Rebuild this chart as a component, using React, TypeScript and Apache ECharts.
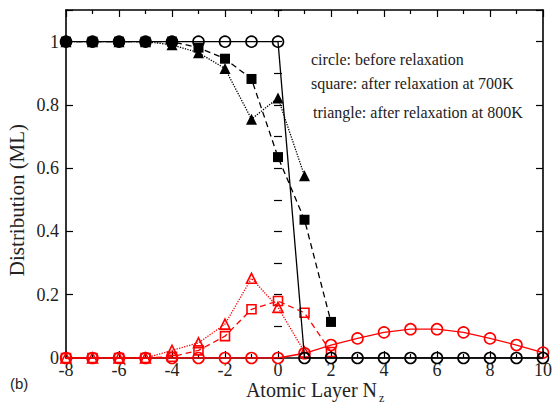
import React, { useEffect, useRef } from "react";
import * as echarts from "echarts";

const layers = [-8, -7, -6, -5, -4, -3, -2, -1, 0, 1, 2, 3, 4, 5, 6, 7, 8, 9, 10];

// black: top species (before relaxation / 700K / 800K)
const blackCircle = [1, 1, 1, 1, 1, 1, 1, 1, 1, 0, 0, 0, 0, 0, 0, 0, 0, 0, 0];
const blackSquare = [1, 1, 1, 1, 1, 0.981, 0.946, 0.882, 0.635, 0.437, 0.114];
const blackTriangle = [1, 1, 1, 1, 0.99, 0.965, 0.915, 0.755, 0.822, 0.576];

// red: second species
const redCircle = [0, 0, 0, 0, 0, 0, 0, 0, 0, 0.015, 0.041, 0.062, 0.081, 0.091, 0.091, 0.081, 0.062, 0.041, 0.017];
const redSquare = [0, 0, 0, 0, 0.004, 0.024, 0.069, 0.154, 0.18, 0.143, 0.019];
const redTriangle = [0, 0, 0, 0, 0.024, 0.048, 0.107, 0.252, 0.16, 0.019];

const xTicks = { min: -8, max: 10, interval: 2 };
const yTicks = { min: 0, max: 1.1, interval: 0.2 };

const notes = [
  "circle: before relaxation",
  "square: after relaxation at 700K",
  "triangle: after relaxation at 800K",
];

const toPairs = (vals: number[]) => vals.map((v, i) => [layers[i], v]);

const SERIF = "Liberation Serif";
const labelRich = { s: { fontFamily: SERIF, fontSize: 18, color: "#222" } };

export default function App() {
  const ref = useRef<HTMLDivElement>(null);
  useEffect(() => {
    if (!ref.current) return;
    const chart = echarts.init(ref.current, undefined, { renderer: "svg" });

    const mkSeries = (
      vals: number[],
      color: string,
      symbol: string,
      filled: boolean,
      lineType: any,
      size: number,
      z: number
    ) => ({
      type: "line",
      data: toPairs(vals),
      symbol,
      symbolSize: size,
      showAllSymbol: true,
      z,
      lineStyle: { color, width: 1.3, type: lineType },
      itemStyle: {
        color: filled ? color : "rgba(0,0,0,0)",
        borderColor: color,
        borderWidth: filled ? 0 : 1.6,
      },
      xAxisIndex: 0,
      yAxisIndex: 0,
    });

    const baseX = {
      type: "value",
      min: xTicks.min,
      max: xTicks.max,
      interval: xTicks.interval,
      splitLine: { show: false },
      axisLine: { show: true, onZero: false, lineStyle: { color: "#000", width: 1.6 } },
      axisTick: { show: true, inside: true, length: 7, lineStyle: { color: "#000", width: 1.2 } },
      minorTick: { show: true, splitNumber: 2, length: 4, lineStyle: { color: "#000", width: 1.2 } },
    };

    const option: any = {
      animation: false,
      backgroundColor: "#fff",
      textStyle: { fontFamily: SERIF },
      grid: { left: 66, right: 12, top: 10, bottom: 49, containLabel: false },
      xAxis: [
        {
          ...baseX,
          position: "bottom",
          axisLabel: {
            show: true,
            color: "#222",
            fontFamily: SERIF,
            fontSize: 18,
            margin: 3,
            formatter: (v: number) => `{s|${v}}`,
            rich: labelRich,
          },
        },
        { ...baseX, position: "top", axisLabel: { show: false } },
      ],
      yAxis: [
        {
          type: "value",
          position: "left",
          min: yTicks.min,
          max: yTicks.max,
          interval: yTicks.interval,
          splitLine: { show: false },
          axisLine: { show: true, onZero: false, lineStyle: { color: "#000", width: 1.6 } },
          axisTick: { show: true, inside: true, length: 7, lineStyle: { color: "#000", width: 1.2 } },
          axisLabel: {
            show: true,
            color: "#222",
            fontFamily: SERIF,
            fontSize: 18,
            margin: 7,
            formatter: (v: number) => (v > 1.05 ? "" : `{s|${Math.round(v * 10) / 10}}`),
            rich: labelRich,
          },
        },
        {
          type: "value",
          position: "left",
          min: yTicks.min,
          max: yTicks.max,
          interval: 0.1,
          splitLine: { show: false },
          axisLine: { show: false },
          axisTick: { show: true, inside: true, length: 4, lineStyle: { color: "#000", width: 1.2 } },
          axisLabel: { show: false },
        },
        {
          type: "value",
          position: "right",
          min: yTicks.min,
          max: yTicks.max,
          interval: yTicks.interval,
          splitLine: { show: false },
          axisLine: { show: true, onZero: false, lineStyle: { color: "#000", width: 1.6 } },
          axisTick: { show: true, inside: true, length: 7, lineStyle: { color: "#000", width: 1.2 } },
          axisLabel: { show: false },
        },
        {
          type: "value",
          position: "right",
          min: yTicks.min,
          max: yTicks.max,
          interval: 0.1,
          splitLine: { show: false },
          axisLine: { show: false },
          axisTick: { show: true, inside: true, length: 4, lineStyle: { color: "#000", width: 1.2 } },
          axisLabel: { show: false },
        },
      ],
      series: [
        mkSeries(redCircle, "#ff0000", "circle", false, "solid", 11, 2),
        mkSeries(redSquare, "#ff0000", "rect", false, [6, 4], 9, 3),
        mkSeries(redTriangle, "#ff0000", "triangle", false, "dotted", 10, 4),
        mkSeries(blackCircle, "#000", "circle", false, "solid", 11, 5),
        mkSeries(blackSquare, "#000", "rect", true, [6, 4], 10, 6),
        mkSeries(blackTriangle, "#000", "triangle", true, "dotted", 11, 7),
      ],
      graphic: [
        ...notes.map((t, i) => ({
          type: "text",
          left: i === 2 ? 313 : 311,
          top: [51, 75, 104][i],
          style: { text: t, fontFamily: SERIF, fontSize: 16, fill: "#222" },
        })),
        {
          type: "text",
          x: 17,
          y: 200,
          rotation: Math.PI / 2,
          style: {
            text: "Distribution (ML)",
            fontFamily: SERIF,
            fontSize: 21,
            fill: "#222",
            align: "center",
            verticalAlign: "middle",
          },
        },
        {
          type: "text",
          x: 377,
          y: 390,
          style: {
            text: "Atomic Layer N",
            fontFamily: SERIF,
            fontSize: 20,
            fill: "#222",
            align: "right",
            verticalAlign: "middle",
          },
        },
        {
          type: "text",
          x: 379,
          y: 398,
          style: {
            text: "z",
            fontFamily: SERIF,
            fontSize: 12,
            fill: "#222",
            align: "left",
            verticalAlign: "middle",
          },
        },
        {
          type: "text",
          x: 10,
          y: 383,
          style: {
            text: "(b)",
            fontFamily: "Liberation Sans",
            fontSize: 15,
            fill: "#222",
            align: "left",
            verticalAlign: "middle",
          },
        },
      ],
    };
    chart.setOption(option);
    return () => chart.dispose();
  }, []);

  return (
    <div
      ref={ref}
      style={{ width: 555, height: 407, position: "absolute", left: 0, top: 0 }}
    />
  );
}
